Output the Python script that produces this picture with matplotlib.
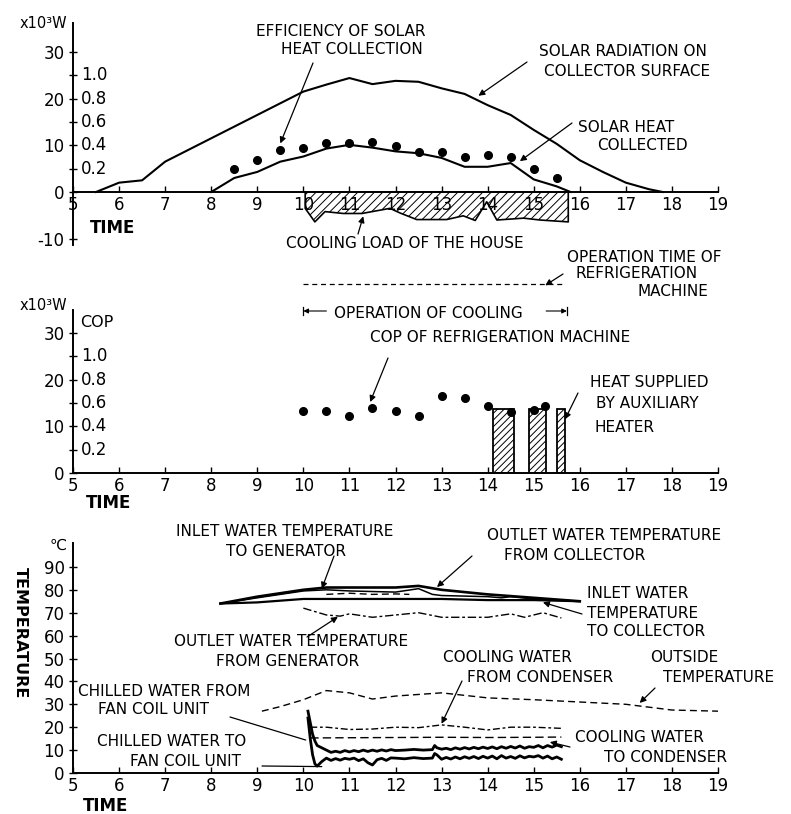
import numpy as np
import matplotlib
matplotlib.use("Agg")
import matplotlib.pyplot as plt

plt.rcParams['font.family'] = ['DejaVu Sans']
plt.rcParams['hatch.linewidth'] = 0.7

W, H = 791, 814
fig = plt.figure(figsize=(W / 100, H / 100), dpi=100)

# ---------------- data ----------------
hours = list(range(5, 20))

# panel 1 (x10^3 W)
rad_t = [5.5, 6, 6.5, 7, 8, 9, 10, 10.5, 11, 11.5, 12, 12.5, 13, 13.5, 14, 14.5, 15, 15.5, 16, 16.5, 17, 17.5, 17.8]
rad_q = [0, 2, 2.5, 6.5, 11.5, 16.5, 21.5, 23, 24.4, 23.1, 23.8, 23.6, 22.2, 21, 18.6, 16.5, 13.3, 10.3, 6.8, 4.3, 2, 0.6, 0]
col_t = [8, 8.5, 9, 9.5, 10, 10.5, 11, 11.5, 12, 12.5, 13, 13.5, 14, 14.5, 15, 15.5, 15.8]
col_q = [0, 3, 4.3, 6.5, 7.6, 9.3, 10.1, 9.5, 8.7, 8.3, 7.3, 5.4, 5.4, 6.2, 2.7, 1.2, 0]
eff_t = [8.5, 9, 9.5, 10, 10.5, 11, 11.5, 12, 12.5, 13, 13.5, 14, 14.5, 15, 15.5]
eff = [0.20, 0.27, 0.36, 0.38, 0.42, 0.42, 0.43, 0.39, 0.34, 0.34, 0.30, 0.32, 0.30, 0.20, 0.12]
load_t = [10.04, 10.25, 10.47, 10.87, 11.27, 11.88, 12.1, 12.46, 13.11, 13.47, 13.73, 13.98, 14.2, 14.78, 15.14, 15.75]
load_q = [-3.5, -6.4, -4.2, -4.6, -4.6, -3.5, -4.5, -5.9, -5.9, -5.1, -6.1, -2.1, -6.0, -5.6, -6.0, -6.4]

# panel 2
cop_t = [10, 10.5, 11, 11.5, 12, 12.5, 13, 13.5, 14, 14.5, 15, 15.25]
cop = [0.53, 0.53, 0.49, 0.56, 0.53, 0.49, 0.66, 0.64, 0.57, 0.52, 0.54, 0.57]
aux_start = [14.11, 14.89, 15.50]
aux_end = [14.57, 15.26, 15.67]
aux_q = [13.7, 13.7, 13.7]
refrig_on, refrig_off = 10.0, 15.63
cool_on, cool_off = 10.0, 15.72

# panel 3 (deg C)
coll_out_t = [8.2, 9, 10, 10.5, 12, 12.5, 13, 14, 15, 16]
coll_out = [74, 77, 80, 81, 81, 81.7, 80, 78, 76.5, 75]
gen_in_t = [8.2, 9, 10, 10.5, 11, 12, 12.5, 12.8, 13, 14, 14.3, 14.5, 15, 16]
gen_in = [74, 76.5, 79.5, 80, 79.5, 79, 80.5, 78, 77.5, 77, 76.5, 77, 76, 75]
gen_in2_t = [10.5, 11, 11.5, 12, 12.3]
gen_in2 = [78, 78.5, 78, 78.2, 78]
coll_in_t = [8.2, 9, 10, 11, 12, 13, 14, 15, 16]
coll_in = [74, 74.5, 76, 76, 76, 76, 75.5, 75.5, 75]
gen_out_t = [10.0, 10.5, 10.8, 11.0, 11.5, 12, 12.5, 13, 14, 14.5, 14.8, 15.2, 15.6]
gen_out = [72, 69, 68.5, 69.5, 68, 69, 70, 68, 68, 69.5, 68, 70, 67.7]
outside_t = [9.1, 9.5, 10, 10.5, 11, 11.5, 12, 13, 14, 15, 16, 17, 18, 19]
outside = [27, 29, 32, 36, 35, 32.3, 33.6, 35, 32.8, 32, 31, 30, 27.5, 27]
cw_from_t = [10.15, 10.5, 11, 11.5, 12, 12.5, 13, 13.5, 14, 14.5, 15, 15.6]
cw_from = [20, 20, 19, 19.2, 20, 19.8, 21, 20, 18.8, 20, 20, 19.5]
cw_to_t = [10.15, 11, 12, 13, 14, 15, 15.6]
cw_to = [15.3, 15.4, 15.5, 15.6, 15.5, 15.6, 15.7]
chw_from_t = [10.1, 10.15, 10.2, 10.25, 10.3, 10.4, 10.5, 10.6, 10.7, 10.8, 10.9, 11.0, 11.1, 11.2,
              11.3, 11.4, 11.5, 11.6, 11.7, 11.8, 11.9, 12.0, 12.2, 12.4, 12.6, 12.8, 12.85, 12.9,
              13.0, 13.1, 13.2, 13.3, 13.4, 13.5, 13.6, 13.7, 13.8, 13.9, 14.0, 14.1, 14.2, 14.3,
              14.4, 14.5, 14.6, 14.7, 14.8, 14.9, 15.0, 15.1, 15.2, 15.3, 15.4, 15.5, 15.6]
chw_from = [27, 22, 17, 14, 12, 11, 10, 9, 9.5, 9, 9.8, 9.2, 9.8, 9.3, 10, 9.4, 10, 9.5, 10.1, 9.6,
            10.2, 9.8, 10, 10.3, 10, 10.2, 12, 11, 10.4, 10.8, 10.2, 11, 10.4, 11.1, 10.5, 11.2,
            10.6, 11.3, 10.7, 11.4, 10.6, 11.5, 10.8, 11.6, 10.9, 11.8, 10.8, 11.5, 11.2, 12, 11,
            12, 11.3, 12.2, 11.5]
chw_to_t = [10.1, 10.15, 10.2, 10.25, 10.3, 10.4, 10.5, 10.6, 10.7, 10.8, 10.9, 11.0, 11.1, 11.2,
            11.3, 11.4, 11.5, 11.6, 11.7, 11.8, 11.9, 12.0, 12.2, 12.4, 12.6, 12.8, 12.85, 12.9,
            13.0, 13.1, 13.2, 13.3, 13.4, 13.5, 13.6, 13.7, 13.8, 13.9, 14.0, 14.1, 14.2, 14.3,
            14.4, 14.5, 14.6, 14.7, 14.8, 14.9, 15.0, 15.1, 15.2, 15.3, 15.4, 15.5, 15.6]
chw_to = [24, 15, 8, 4, 3, 5, 6.5, 5.5, 6.3, 5.6, 6.4, 6, 6.5, 5.4, 6.2, 4.5, 3.5, 5.8, 6.4, 5.5,
          6.6, 6.5, 6.2, 6.7, 6.3, 6.5, 8.5, 7.9, 6, 6.8, 6.1, 7, 6.2, 7.1, 6.4, 7.2, 6.3, 7.3,
          6.5, 7.4, 6.2, 7.6, 6.5, 7.2, 6.4, 7.5, 6.6, 7.3, 7, 7.6, 6.5, 7.4, 6.2, 7, 6]

eff_ticks = [0.2, 0.4, 0.6, 0.8, 1.0]


# ---------------- helpers ----------------
def fx(px):
    return px / W


def fy(py):
    return 1 - py / H


def txt(s, x, y, ha='left', size=11, **kw):
    fig.text(fx(x), fy(y), s, ha=ha, va='center', fontsize=size, **kw)


def arrow(ax, xy, px, py, style='-|>'):
    ax.annotate('', xy=xy, xytext=(fx(px), fy(py)), textcoords='figure fraction',
                arrowprops=dict(arrowstyle=style, color='black', lw=0.9,
                                mutation_scale=9, shrinkA=0, shrinkB=0),
                annotation_clip=False)


def setup(ax, ylo, yhi, major, minor):
    ax.set_xlim(5, 19)
    ax.set_ylim(ylo, yhi)
    ax.patch.set_alpha(0)
    for s in ['top', 'right']:
        ax.spines[s].set_visible(False)
    ax.spines['bottom'].set_position(('data', 0))
    ax.spines['left'].set_linewidth(1.4)
    ax.spines['bottom'].set_linewidth(1.4)
    ax.set_xticks(hours)
    ax.set_xticklabels([str(h) for h in hours])
    ax.tick_params(axis='x', direction='in', length=4, width=1, labelsize=12, pad=3)
    ax.set_yticks(major)
    ax.set_yticklabels([str(v) for v in major])
    ax.set_yticks(minor, minor=True)
    ax.tick_params(axis='y', which='both', direction='inout', length=6, width=1,
                   labelsize=12, pad=3)


def px2ax(ptop, pbot):
    return [fx(73), fy(pbot), (718 - 73) / W, (pbot - ptop) / H]


# ---------------- panel 1 ----------------
ax1 = fig.add_axes(px2ax(23, 245))
setup(ax1, (192 - 245) / 4.67, (192 - 23) / 4.67, [-10, 0, 10, 20, 30], [5, 15, 25])
ax1.plot(rad_t, rad_q, color='black', lw=1.5)
ax1.plot(col_t, col_q, color='black', lw=1.5)
ax1.plot(eff_t, np.array(eff) * 25, 'o', color='black', ms=5.5)
ax1.fill_between(load_t, load_q, 0, facecolor='white', edgecolor='black',
                 hatch='////', lw=1.2)
for v in eff_ticks:
    ax1.text(0.012, v * 25, '%.1f' % v, transform=ax1.get_yaxis_transform(),
             ha='left', va='center', fontsize=12)

txt('x10³W', 20, 24, size=10.5)
txt('EFFICIENCY OF SOLAR', 341, 31, ha='center')
txt('HEAT COLLECTION', 352, 50, ha='center')
txt('SOLAR RADIATION ON', 623, 52, ha='center')
txt('COLLECTOR SURFACE', 627, 72, ha='center')
txt('SOLAR HEAT', 578, 127)
txt('COLLECTED', 597, 146)
txt('COOLING LOAD OF THE HOUSE', 405, 243, ha='center')
txt('TIME', 90, 228, size=12, weight='bold')
arrow(ax1, (9.5, 10.4), 313, 63)
arrow(ax1, (13.8, 20.6), 527, 62)
arrow(ax1, (14.7, 6.6), 572, 123)
arrow(ax1, (11.3, -5.2), 358, 234)

# ---------------- panel 2 ----------------
ax2 = fig.add_axes(px2ax(310, 473))
setup(ax2, 0, (473 - 310) / 4.67, [0, 10, 20, 30], [5, 15, 25])
ax2.bar(aux_start, aux_q, width=np.array(aux_end) - np.array(aux_start), align='edge',
        facecolor='white', edgecolor='black', hatch='/////', lw=1.3, zorder=2)
ax2.plot(cop_t, np.array(cop) * 25, 'o', color='black', ms=5.5, zorder=3)
for v in eff_ticks:
    ax2.text(0.012, v * 25, '%.1f' % v, transform=ax2.get_yaxis_transform(),
             ha='left', va='center', fontsize=12)
op_y = (473 - 284) / 4.67
ax2.plot([refrig_on, refrig_off], [op_y, op_y], color='black', lw=0.9,
         ls=(0, (4, 3)), clip_on=False)
br_y = (473 - 311) / 4.67
ax2.annotate('', xy=(cool_on, br_y), xytext=(cool_on + 0.5, br_y),
             arrowprops=dict(arrowstyle='-|>', color='black', lw=0.8, mutation_scale=7,
                             shrinkA=0, shrinkB=0), annotation_clip=False)
ax2.annotate('', xy=(cool_off, br_y), xytext=(cool_off - 0.45, br_y),
             arrowprops=dict(arrowstyle='-|>', color='black', lw=0.8, mutation_scale=7,
                             shrinkA=0, shrinkB=0), annotation_clip=False)
for xb in [cool_on, cool_off]:
    ax2.plot([xb, xb], [br_y - 0.8, br_y + 0.8], color='black', lw=0.9, clip_on=False)

txt('x10³W', 20, 305, size=10.5)
txt('COP', 80, 323, size=11.5)
txt('OPERATION TIME OF', 644, 257, ha='center')
txt('REFRIGERATION', 637, 273, ha='center')
txt('MACHINE', 673, 291, ha='center')
txt('OPERATION OF COOLING', 428, 313, ha='center')
txt('COP OF REFRIGERATION MACHINE', 500, 338, ha='center')
txt('HEAT SUPPLIED', 649, 382, ha='center')
txt('BY AUXILIARY', 647, 404, ha='center')
txt('HEATER', 594, 427)
txt('TIME', 86, 503, size=12, weight='bold')
arrow(ax2, (15.25, op_y - 0.3), 563, 274)
arrow(ax2, (11.45, 0.56 * 25 + 1.2), 388, 358)
arrow(ax2, (15.68, 11.5), 578, 393)

# ---------------- panel 3 ----------------
ax3 = fig.add_axes(px2ax(543, 773))
setup(ax3, 0, (773 - 543) / 2.29, list(range(0, 100, 10)), [])
ax3.plot(coll_out_t, coll_out, color='black', lw=1.9)
ax3.plot(gen_in_t, gen_in, color='black', lw=1.1)
ax3.plot(gen_in2_t, gen_in2, color='black', lw=1.0, ls=(0, (5, 3)))
ax3.plot(coll_in_t, coll_in, color='black', lw=1.6)
ax3.plot(gen_out_t, gen_out, color='black', lw=1.0, ls=(0, (6, 2, 2, 2)))
ax3.plot(outside_t, outside, color='black', lw=1.0, ls=(0, (5, 3)))
ax3.plot(cw_from_t, cw_from, color='black', lw=1.0, ls=(0, (5, 2, 2, 2)))
ax3.plot(cw_to_t, cw_to, color='black', lw=1.0, ls=(0, (6, 3)))
ax3.plot(chw_from_t, chw_from, color='black', lw=2.0)
ax3.plot(chw_to_t, chw_to, color='black', lw=2.0)

txt('℃', 50, 545, size=11)
txt('TEMPERATURE', 20, 633, ha='center', size=11.5, weight='bold', rotation=270)
txt('INLET WATER TEMPERATURE', 285, 532, ha='center')
txt('TO GENERATOR', 286, 552, ha='center')
txt('OUTLET WATER TEMPERATURE', 604, 535, ha='center')
txt('FROM COLLECTOR', 575, 555, ha='center')
txt('INLET WATER', 587, 594)
txt('TEMPERATURE', 587, 613)
txt('TO COLLECTOR', 587, 631)
txt('OUTLET WATER TEMPERATURE', 291, 641, ha='center')
txt('FROM GENERATOR', 288, 662, ha='center')
txt('COOLING WATER', 443, 657)
txt('FROM CONDENSER', 467, 677)
txt('OUTSIDE', 650, 657)
txt('TEMPERATURE', 663, 677)
txt('COOLING WATER', 575, 738)
txt('TO CONDENSER', 604, 757)
txt('CHILLED WATER FROM', 78, 691)
txt('FAN COIL UNIT', 98, 709)
txt('CHILLED WATER TO', 97, 742)
txt('FAN COIL UNIT', 130, 761)
txt('TIME', 83, 806, size=12, weight='bold')
arrow(ax3, (10.4, 80.5), 334, 556)
arrow(ax3, (12.9, 81.2), 472, 556)
arrow(ax3, (15.2, 74.5), 582, 614)
arrow(ax3, (10.75, 68.2), 307, 637)
arrow(ax3, (13.0, 21.5), 462, 681)
arrow(ax3, (17.3, 30.6), 655, 688)
arrow(ax3, (15.35, 13.5), 570, 747)
arrow(ax3, (10.05, 14.4), 230, 717, style='-')
arrow(ax3, (10.4, 2.8), 262, 766, style='-')

fig.savefig('out.png', dpi=100)
